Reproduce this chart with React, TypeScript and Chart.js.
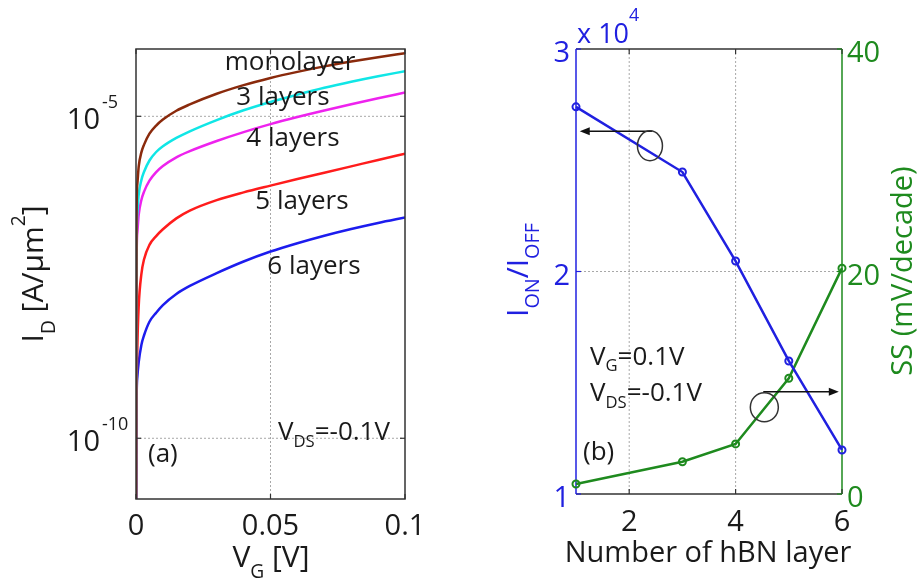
import React, { useEffect, useRef } from 'react';
import { Chart, registerables } from 'chart.js';

Chart.register(...registerables);

// ---------------- Panel (a) data ----------------
const vgValues = [0, 0.0002, 0.0005, 0.001, 0.002, 0.003, 0.005, 0.0075, 0.01, 0.015, 0.02, 0.03, 0.04, 0.05, 0.06, 0.07, 0.08, 0.09, 0.1];
const idMonolayer = [1e-12, 2.51e-7, 8.91e-7, 1.66e-6, 2.75e-6, 3.63e-6, 5.37e-6, 7.19e-6, 8.91e-6, 1.22e-5, 1.53e-5, 2.24e-5, 3.05e-5, 3.94e-5, 4.9e-5, 5.96e-5, 7.08e-5, 8.26e-5, 9.55e-5];
const id3Layers = [1e-12, 8.91e-8, 3.16e-7, 6.03e-7, 1.02e-6, 1.38e-6, 2.06e-6, 2.79e-6, 3.42e-6, 4.61e-6, 5.85e-6, 8.75e-6, 1.24e-5, 1.67e-5, 2.17e-5, 2.77e-5, 3.44e-5, 4.19e-5, 5.01e-5];
const id4Layers = [1e-12, 4.47e-8, 1.58e-7, 2.95e-7, 5.01e-7, 6.76e-7, 1.0e-6, 1.36e-6, 1.69e-6, 2.31e-6, 2.88e-6, 4.14e-6, 5.69e-6, 7.55e-6, 9.73e-6, 1.23e-5, 1.54e-5, 1.91e-5, 2.34e-5];
const id5Layers = [1e-12, 3.16e-10, 2.51e-9, 1.12e-8, 3.55e-8, 6.03e-8, 1.01e-7, 1.38e-7, 1.76e-7, 2.6e-7, 3.43e-7, 4.99e-7, 6.58e-7, 8.38e-7, 1.06e-6, 1.33e-6, 1.67e-6, 2.1e-6, 2.63e-6];
const id6Layers = [1e-12, 3.16e-10, 8.91e-10, 1.51e-9, 2.82e-9, 3.98e-9, 6.46e-9, 8.91e-9, 1.17e-8, 1.74e-8, 2.32e-8, 3.67e-8, 5.56e-8, 7.94e-8, 1.07e-7, 1.4e-7, 1.78e-7, 2.21e-7, 2.69e-7];
const seriesNames = ['monolayer', '3 layers', '4 layers', '5 layers', '6 layers'];
const seriesColors = ['#8a2a0c', '#10e6e6', '#ee22ee', '#ff1c1c', '#1c1cee'];
const vgTicks = [0, 0.05, 0.1];
const idTicks = [1e-10, 1e-5];
const idMin = 1.14e-11;
const idMax = 1.11e-4;

// ---------------- Panel (b) data ----------------
const layerCounts = [1, 3, 4, 5, 6];
const onOffRatio = [27400, 24470, 20470, 15980, 11980];
const ssValues = [0.9, 2.9, 4.5, 10.4, 20.3];
const layerTicks = [2, 4, 6];
const ratioTicks = [10000, 20000, 30000];
const ssTicks = [0, 20, 40];

const FONT = '"Open Sans", sans-serif';
const TEXT = '#1a1a1a';
const BOX = '#333333';
const GRID = '#a8a8a8';
const BLUE = '#2020e0';
const GREEN = '#1e8a1e';

type Seg = { t: string; sub?: boolean; sup?: boolean; dy?: number; scale?: number };

function drawRich(
  ctx: CanvasRenderingContext2D,
  segs: Seg[],
  x: number,
  y: number,
  size: number,
  color: string,
  align: 'left' | 'center' | 'right' = 'left',
  rotate = 0
) {
  ctx.save();
  ctx.translate(x, y);
  if (rotate) ctx.rotate(rotate);
  const info = segs.map((s) => {
    const sz = s.sub || s.sup ? size * (s.scale ?? 0.64) : size;
    ctx.font = `${sz}px ${FONT}`;
    return { sz, w: ctx.measureText(s.t).width };
  });
  const total = info.reduce((a, b) => a + b.w, 0);
  let cx = align === 'left' ? 0 : align === 'center' ? -total / 2 : -total;
  ctx.fillStyle = color;
  ctx.textBaseline = 'alphabetic';
  ctx.textAlign = 'left';
  segs.forEach((s, i) => {
    ctx.font = `${info[i].sz}px ${FONT}`;
    const dy = s.dy !== undefined ? s.dy * size : s.sub ? 0.33 * size : s.sup ? -0.6 * size : 0;
    ctx.fillText(s.t, cx, dy);
    cx += info[i].w;
  });
  ctx.restore();
}

function line(ctx: CanvasRenderingContext2D, x1: number, y1: number, x2: number, y2: number) {
  ctx.beginPath();
  ctx.moveTo(x1, y1);
  ctx.lineTo(x2, y2);
  ctx.stroke();
}

function arrow(ctx: CanvasRenderingContext2D, x1: number, y: number, x2: number) {
  const dir = Math.sign(x2 - x1);
  ctx.save();
  ctx.strokeStyle = '#111';
  ctx.fillStyle = '#111';
  ctx.lineWidth = 1.5;
  line(ctx, x1, y, x2 - dir * 8, y);
  ctx.beginPath();
  ctx.moveTo(x2, y);
  ctx.lineTo(x2 - dir * 10, y - 4);
  ctx.lineTo(x2 - dir * 10, y + 4);
  ctx.closePath();
  ctx.fill();
  ctx.restore();
}

function ellipse(ctx: CanvasRenderingContext2D, cx: number, cy: number, rx: number, ry: number) {
  ctx.save();
  ctx.strokeStyle = '#333';
  ctx.lineWidth = 1.5;
  ctx.beginPath();
  ctx.ellipse(cx, cy, rx, ry, 0, 0, Math.PI * 2);
  ctx.stroke();
  ctx.restore();
}

const panelAPlugin = {
  id: 'panelA',
  beforeDatasetsDraw(chart: any) {
    const { ctx, chartArea: a, scales } = chart;
    const x = scales.x;
    const y = scales.y;
    ctx.save();
    ctx.strokeStyle = GRID;
    ctx.lineWidth = 1;
    ctx.setLineDash([2, 2]);
    vgTicks.forEach((v) => {
      const px = x.getPixelForValue(v);
      if (px > a.left + 1 && px < a.right - 1) line(ctx, px, a.top, px, a.bottom);
    });
    idTicks.forEach((v) => {
      const py = y.getPixelForValue(v);
      line(ctx, a.left, py, a.right, py);
    });
    ctx.restore();
  },
  afterDraw(chart: any) {
    const { ctx, chartArea: a, scales } = chart;
    const x = scales.x;
    const y = scales.y;
    ctx.save();
    ctx.strokeStyle = BOX;
    ctx.lineWidth = 1.5;
    ctx.strokeRect(a.left, a.top, a.right - a.left, a.bottom - a.top);
    ctx.lineWidth = 1.2;
    vgTicks.forEach((v) => {
      const px = x.getPixelForValue(v);
      line(ctx, px, a.bottom, px, a.bottom - 5);
      line(ctx, px, a.top, px, a.top + 5);
    });
    idTicks.forEach((v) => {
      const py = y.getPixelForValue(v);
      line(ctx, a.left, py, a.left + 5, py);
      line(ctx, a.right, py, a.right - 5, py);
    });
    ctx.restore();
    vgTicks.forEach((v) => {
      drawRich(ctx, [{ t: String(v) }], x.getPixelForValue(v), 535, 29, TEXT, 'center');
    });
    idTicks.forEach((v) => {
      const py = y.getPixelForValue(v);
      drawRich(ctx, [{ t: '10' }], 100, py + 13, 29, TEXT, 'right');
      drawRich(ctx, [{ t: String(Math.round(Math.log10(v))) }], 102, py - 8, 18, TEXT, 'left');
    });
    drawRich(ctx, [{ t: 'V' }, { t: 'G', sub: true, dy: 0.37 }, { t: ' [V]' }], 271, 567, 30, TEXT, 'center');
    drawRich(
      ctx,
      [{ t: 'I' }, { t: 'D', sub: true, dy: 0.4 }, { t: ' [A/\u03BCm' }, { t: '2', sup: true, dy: -0.6 }, { t: ']' }],
      43,
      (a.top + a.bottom) / 2,
      30,
      TEXT,
      'center',
      -Math.PI / 2
    );
    const labelPos: [number, number][] = [
      [290, 70],
      [283, 105],
      [293, 146],
      [302, 209],
      [314, 274],
    ];
    seriesNames.forEach((n, i) => {
      drawRich(ctx, [{ t: n }], labelPos[i][0], labelPos[i][1], 26, TEXT, 'center');
    });
    drawRich(ctx, [{ t: '(a)' }], 148, 462, 26, TEXT, 'left');
    drawRich(ctx, [{ t: 'V' }, { t: 'DS', sub: true, dy: 0.28 }, { t: '=-0.1V' }], 278, 440, 26, TEXT, 'left');
  },
};

const panelBPlugin = {
  id: 'panelB',
  beforeDatasetsDraw(chart: any) {
    const { ctx, chartArea: a, scales } = chart;
    const x = scales.x;
    const y = scales.y;
    ctx.save();
    ctx.strokeStyle = GRID;
    ctx.lineWidth = 1;
    ctx.setLineDash([2, 2]);
    layerTicks.forEach((v) => {
      const px = x.getPixelForValue(v);
      if (px > a.left + 1 && px < a.right - 1) line(ctx, px, a.top, px, a.bottom);
    });
    ratioTicks.forEach((v) => {
      const py = y.getPixelForValue(v);
      if (py > a.top + 1 && py < a.bottom - 1) line(ctx, a.left, py, a.right, py);
    });
    ctx.restore();
    ctx.save();
    ctx.lineWidth = 1.5;
    ctx.strokeStyle = BOX;
    line(ctx, a.left, a.top, a.right, a.top);
    line(ctx, a.left, a.bottom, a.right, a.bottom);
    ctx.strokeStyle = BLUE;
    line(ctx, a.left, a.top, a.left, a.bottom);
    ctx.strokeStyle = GREEN;
    line(ctx, a.right, a.top, a.right, a.bottom);
    ctx.lineWidth = 1.2;
    ctx.strokeStyle = BOX;
    layerTicks.forEach((v) => {
      const px = x.getPixelForValue(v);
      line(ctx, px, a.bottom, px, a.bottom - 5);
      line(ctx, px, a.top, px, a.top + 5);
    });
    ctx.strokeStyle = BLUE;
    ratioTicks.forEach((v) => {
      const py = y.getPixelForValue(v);
      line(ctx, a.left, py, a.left + 5, py);
    });
    ctx.strokeStyle = GREEN;
    ssTicks.forEach((v) => {
      const py = scales.y1.getPixelForValue(v);
      line(ctx, a.right, py, a.right - 5, py);
    });
    ctx.restore();
  },
  afterDraw(chart: any) {
    const { ctx, chartArea: a, scales } = chart;
    const x = scales.x;
    const y = scales.y;
    const y1 = scales.y1;
    layerTicks.forEach((v) => {
      drawRich(ctx, [{ t: String(v) }], x.getPixelForValue(v), 531, 29, TEXT, 'center');
    });
    ratioTicks.forEach((v) => {
      drawRich(ctx, [{ t: String(v / 10000) }], a.left - 6, y.getPixelForValue(v) + 13, 29, BLUE, 'right');
    });
    ssTicks.forEach((v) => {
      drawRich(ctx, [{ t: String(v) }], a.right + 5, y1.getPixelForValue(v) + 13, 29, GREEN, 'left');
    });
    drawRich(ctx, [{ t: 'x 10' }, { t: '4', sup: true, dy: -0.8, scale: 0.66 }], a.left + 1, 43, 27, BLUE, 'left');
    drawRich(ctx, [{ t: 'Number of hBN layer' }], 248, 562, 29, TEXT, 'center');
    drawRich(
      ctx,
      [{ t: 'I' }, { t: 'ON', sub: true, dy: 0.36, scale: 0.66 }, { t: '/I' }, { t: 'OFF', sub: true, dy: 0.36, scale: 0.66 }],
      68,
      270,
      30,
      BLUE,
      'center',
      -Math.PI / 2
    );
    drawRich(ctx, [{ t: 'SS (mV/decade)' }], 452, 271, 29, GREEN, 'center', -Math.PI / 2);
    drawRich(ctx, [{ t: 'V' }, { t: 'G', sub: true, dy: 0.22 }, { t: '=0.1V' }], 130, 365, 26, TEXT, 'left');
    drawRich(ctx, [{ t: 'V' }, { t: 'DS', sub: true, dy: 0.28 }, { t: '=-0.1V' }], 130, 401, 26, TEXT, 'left');
    drawRich(ctx, [{ t: '(b)' }], 123, 460, 26, TEXT, 'left');
    arrow(ctx, x.getPixelForValue(2.43), y.getPixelForValue(26300), x.getPixelForValue(1.07));
    ellipse(ctx, x.getPixelForValue(2.39), y.getPixelForValue(25650), 12.5, 15);
    arrow(ctx, x.getPixelForValue(4.52), y1.getPixelForValue(9.2), x.getPixelForValue(5.94));
    ellipse(ctx, x.getPixelForValue(4.54), y1.getPixelForValue(7.8), 14, 14.5);
  },
};

export default function App() {
  const refA = useRef<HTMLCanvasElement>(null);
  const refB = useRef<HTMLCanvasElement>(null);

  useEffect(() => {
    const seriesData = [idMonolayer, id3Layers, id4Layers, id5Layers, id6Layers];
    const chartA = new Chart(refA.current as HTMLCanvasElement, {
      type: 'line',
      data: {
        datasets: seriesData.map((vals, i) => ({
          label: seriesNames[i],
          data: vgValues.map((v, j) => ({ x: v, y: vals[j] })),
          borderColor: seriesColors[i],
          backgroundColor: seriesColors[i],
          borderWidth: 2.5,
          pointRadius: 0,
          cubicInterpolationMode: 'monotone' as const,
          fill: false,
        })),
      },
      options: {
        animation: false,
        responsive: false,
        devicePixelRatio: 1,
        events: [],
        layout: { padding: { left: 136, right: 55, top: 49, bottom: 86 } },
        plugins: { legend: { display: false }, tooltip: { enabled: false }, title: { display: false } },
        scales: {
          x: { type: 'linear', min: 0, max: 0.1, display: false },
          y: { type: 'logarithmic', min: idMin, max: idMax, display: false },
        },
      },
      plugins: [panelAPlugin],
    } as any);

    const chartB = new Chart(refB.current as HTMLCanvasElement, {
      type: 'line',
      data: {
        datasets: [
          {
            label: 'ION/IOFF',
            data: layerCounts.map((l, i) => ({ x: l, y: onOffRatio[i] })),
            yAxisID: 'y',
            borderColor: BLUE,
            backgroundColor: 'rgba(0,0,0,0)',
            borderWidth: 2.5,
            pointRadius: 3.5,
            pointBorderWidth: 2,
            pointBorderColor: BLUE,
            pointBackgroundColor: 'rgba(0,0,0,0)',
            clip: false,
            tension: 0,
          },
          {
            label: 'SS',
            data: layerCounts.map((l, i) => ({ x: l, y: ssValues[i] })),
            yAxisID: 'y1',
            borderColor: GREEN,
            backgroundColor: 'rgba(0,0,0,0)',
            borderWidth: 2.5,
            pointRadius: 3.5,
            pointBorderWidth: 2,
            pointBorderColor: GREEN,
            pointBackgroundColor: 'rgba(0,0,0,0)',
            clip: false,
            tension: 0,
          },
        ],
      },
      options: {
        animation: false,
        responsive: false,
        devicePixelRatio: 1,
        events: [],
        layout: { padding: { left: 116, right: 78, top: 49, bottom: 91 } },
        plugins: { legend: { display: false }, tooltip: { enabled: false }, title: { display: false } },
        scales: {
          x: { type: 'linear', min: 1, max: 6, display: false },
          y: { type: 'linear', position: 'left', min: 10000, max: 30000, display: false },
          y1: { type: 'linear', position: 'right', min: 0, max: 40, display: false },
        },
      },
      plugins: [panelBPlugin],
    } as any);

    return () => {
      chartA.destroy();
      chartB.destroy();
    };
  }, []);

  return (
    <div style={{ position: 'absolute', left: 0, top: 0, width: 920, height: 585, background: '#ffffff' }}>
      <canvas
        ref={refA}
        width={460}
        height={585}
        style={{ position: 'absolute', left: 0, top: 0, width: 460, height: 585 }}
      />
      <canvas
        ref={refB}
        width={460}
        height={585}
        style={{ position: 'absolute', left: 460, top: 0, width: 460, height: 585 }}
      />
    </div>
  );
}
